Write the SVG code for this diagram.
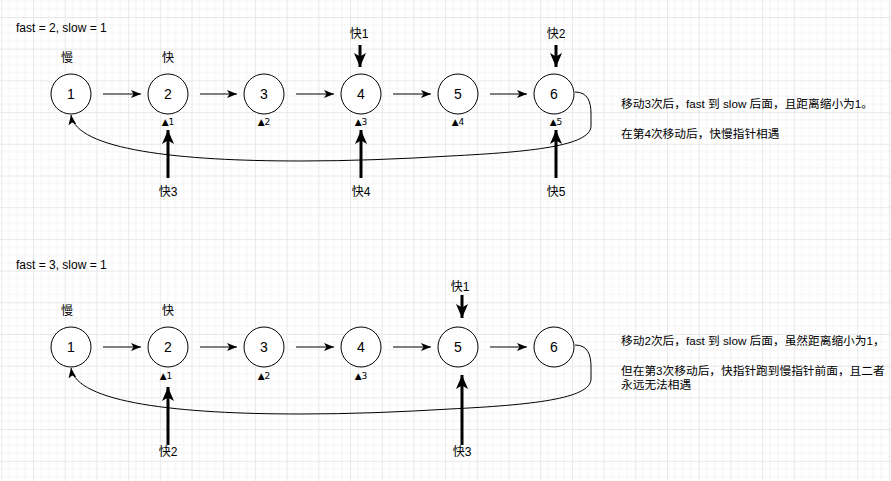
<svg xmlns="http://www.w3.org/2000/svg" width="891" height="481" viewBox="0 0 891 481">
<defs>
<pattern id="grid" width="31.7" height="31.7" patternUnits="userSpaceOnUse" x="1.3" y="17">
<path d="M7.925,0V31.7M15.85,0V31.7M23.775,0V31.7M0,7.925H31.7M0,15.85H31.7M0,23.775H31.7" stroke="#f4f4f4" stroke-width="1" fill="none"/>
<path d="M0.5,0V31.7M0,0.5H31.7" stroke="#e8e8e8" stroke-width="1" fill="none"/>
</pattern>
<marker id="thin" viewBox="0 0 10 8" markerWidth="10" markerHeight="8" refX="10" refY="4" orient="auto" markerUnits="userSpaceOnUse">
<path d="M0,0 L10,4 L0,8 L2.5,4 Z" fill="#000"/>
</marker>
<marker id="thickH" viewBox="0 0 14 12" markerWidth="14" markerHeight="12" refX="14" refY="6" orient="auto" markerUnits="userSpaceOnUse">
<path d="M14,6 L0,12 L3.5,6 L0,0 Z" fill="#000"/>
</marker>
</defs>
<style>
.node circle{fill:#fff;stroke:#000;stroke-width:1}
.node text{font-family:"Liberation Sans","Noto Sans CJK SC",sans-serif;font-size:14px;fill:#000;text-anchor:middle}
.t{font-family:"Liberation Sans","Noto Sans CJK SC",sans-serif;font-size:12px;fill:#000}
.cap{font-size:11.7px}
.c{text-anchor:middle}
.s{font-family:"DejaVu Sans",sans-serif;font-size:9px}
.thin{stroke:#000;stroke-width:1;fill:none;marker-end:url(#thin)}
.thk{stroke:#000;stroke-width:3;fill:none;marker-end:url(#thickH)}
</style>
<rect width="891" height="481" fill="#fff"/>
<rect width="891" height="481" fill="url(#grid)"/>

<!-- Top diagram -->
<text class="t" x="16" y="32">fast = 2, slow = 1</text>
<text class="t c" x="67" y="62">慢</text>
<text class="t c" x="168" y="62">快</text>

<g id="n1a" class="node"><circle cx="71" cy="94" r="20"/><text x="71" y="99">1</text></g>
<g id="n2a" class="node"><circle cx="168" cy="94" r="20"/><text x="168" y="99">2</text></g>
<g id="n3a" class="node"><circle cx="264" cy="94" r="20"/><text x="264" y="99">3</text></g>
<g id="n4a" class="node"><circle cx="361" cy="94" r="20"/><text x="361" y="99">4</text></g>
<g id="n5a" class="node"><circle cx="458" cy="94" r="20"/><text x="458" y="99">5</text></g>
<g id="n6a" class="node"><circle cx="554" cy="94" r="20"/><text x="554" y="99">6</text></g>

<g id="marks-top">
<text class="t c s" x="168" y="125">▲1</text>
<text class="t c s" x="264" y="125">▲2</text>
<text class="t c s" x="361" y="125">▲3</text>
<text class="t c s" x="458" y="125">▲4</text>
<text class="t c s" x="556" y="125">▲5</text>
<text class="t c" x="359" y="38">快1</text>
<text class="t c" x="556" y="38">快2</text>
<text class="t c" x="168" y="196">快3</text>
<text class="t c" x="361" y="196">快4</text>
<text class="t c" x="556" y="196">快5</text>
</g>

<g id="caption-top">
<text class="t cap" x="621" y="108">移动3次后，fast 到 slow 后面，且距离缩小为1。</text>
<text class="t cap" x="621" y="138">在第4次移动后，快慢指针相遇</text>
</g>

<!-- Bottom diagram -->
<text class="t" x="16" y="269">fast = 3, slow = 1</text>
<text class="t c" x="67" y="315">慢</text>
<text class="t c" x="168" y="315">快</text>

<g id="n1b" class="node"><circle cx="71" cy="347" r="20"/><text x="71" y="352">1</text></g>
<g id="n2b" class="node"><circle cx="168" cy="347" r="20"/><text x="168" y="352">2</text></g>
<g id="n3b" class="node"><circle cx="264" cy="347" r="20"/><text x="264" y="352">3</text></g>
<g id="n4b" class="node"><circle cx="361" cy="347" r="20"/><text x="361" y="352">4</text></g>
<g id="n5b" class="node"><circle cx="458" cy="347" r="20"/><text x="458" y="352">5</text></g>
<g id="n6b" class="node"><circle cx="554" cy="347" r="20"/><text x="554" y="352">6</text></g>

<g id="marks-bottom">
<text class="t c s" x="166" y="379">▲1</text>
<text class="t c s" x="264" y="379">▲2</text>
<text class="t c s" x="361" y="379">▲3</text>
<text class="t c" x="460" y="291">快1</text>
<text class="t c" x="168" y="456">快2</text>
<text class="t c" x="462" y="456">快3</text>
</g>

<g id="caption-bottom">
<text class="t cap" x="621" y="345">移动2次后，fast 到 slow 后面，虽然距离缩小为1，</text>
<text class="t cap" x="621" y="375">但在第3次移动后，快指针跑到慢指针前面，且二者</text>
<text class="t cap" x="621" y="389">永远无法相遇</text>
</g>

<g id="connectors">
<path class="thin" d="M103,94H141"/>
<path class="thin" d="M200,94H237"/>
<path class="thin" d="M296,94H334"/>
<path class="thin" d="M393,94H431"/>
<path class="thin" d="M490,94H527"/>
<path class="thin" d="M575,92 C588,92 591,102 591,114 L591,126 C591,146 530,152 450,156 C400,159 350,161 300,161 C180,161 76,150 71,115"/>
<path class="thk" d="M360,45V67"/>
<path class="thk" d="M556,45V67"/>
<path class="thk" d="M168,178V130"/>
<path class="thk" d="M361,178V130"/>
<path class="thk" d="M556,178V130"/>
<path class="thin" d="M103,347H141"/>
<path class="thin" d="M200,347H237"/>
<path class="thin" d="M296,347H334"/>
<path class="thin" d="M393,347H431"/>
<path class="thin" d="M490,347H527"/>
<path class="thin" d="M575,345 C588,345 591,355 591,367 L591,379 C591,399 530,405 450,409 C400,412 350,414 300,414 C180,414 76,403 71,368"/>
<path class="thk" d="M462,295V318"/>
<path class="thk" d="M168,445V387"/>
<path class="thk" d="M462,445V375"/>
</g>
</svg>
